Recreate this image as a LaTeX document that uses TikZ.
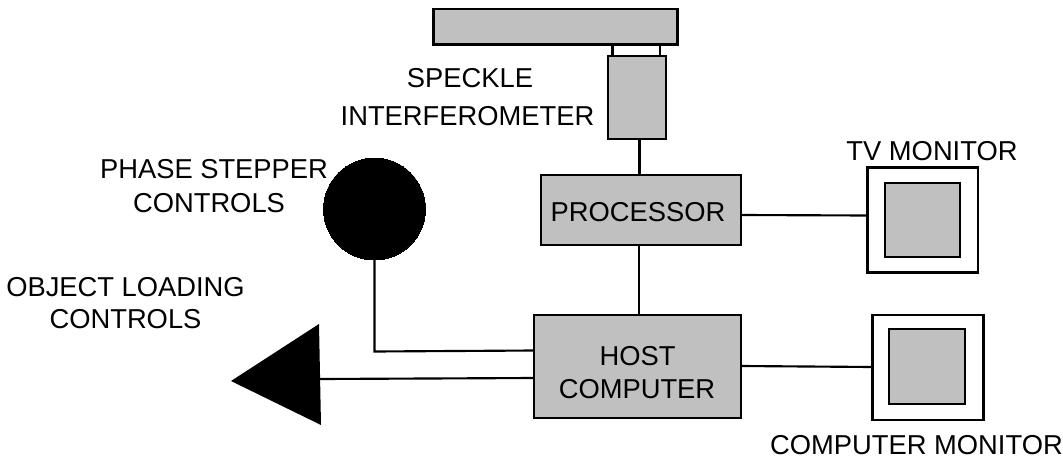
\documentclass[tikz,border=0pt]{standalone}
\usepackage{fontspec}
\setmainfont{Liberation Sans}
\definecolor{boxgray}{HTML}{C0C0C0}
\tikzset{
  box/.style={draw=black,fill=boxgray,line width=1.9pt,inner sep=0pt,outer sep=0pt},
  frame/.style={draw=black,fill=white,line width=1.9pt,inner sep=0pt,outer sep=0pt},
  wire/.style={draw=black,line width=1.6pt},
  lab/.style={anchor=base,inner sep=0pt,text=black,font=\fontsize{20.5pt}{24pt}\selectfont},
}
% rectangle node from pixel corners: name, style, x1, y1, x2, y2
\newcommand{\pxbox}[6]{%
  \pgfmathsetmacro{\pxw}{(#5-#3)*0.75}%
  \pgfmathsetmacro{\pxh}{(#6-#4)*0.75}%
  \node[#2,minimum width=\pxw pt,minimum height=\pxh pt] (#1) at ({(#3+#5)/2},{(#4+#6)/2}) {};%
}
\begin{document}
\begin{tikzpicture}[x=0.75pt,y=-0.75pt]
\useasboundingbox (0,0) rectangle (1063,460);
% connectors below shapes
\coordinate (tip) at (320,379);
\pxbox{plate}{box}{433.5}{9}{677.5}{44.5}
\pxbox{interf}{box}{608}{56}{666}{139}
\pxbox{proc}{box}{541}{175}{741}{245}
\pxbox{host}{box}{534}{315}{741}{418}
\pxbox{tv}{frame}{867.5}{167.5}{978}{272.5}
\pxbox{tvscreen}{box}{885}{183}{960}{257}
\pxbox{cm}{frame}{872.5}{315}{983.5}{420}
\pxbox{cmscreen}{box}{889}{329}{965}{404}
\node[circle,fill=black,draw=black,line width=0pt,inner sep=0pt,outer sep=0pt,minimum size=76.5pt] (phase) at (374.5,209) {};
\fill[black] (231,381) -- (319,324) -- (321,425) -- cycle;
% connectors
\draw[wire] (plate.south -| 612.5,0) -- (interf.north -| 612.5,0);
\draw[wire] (plate.south -| 660,0) -- (interf.north -| 660,0);
\draw[wire] (interf.south -| 639.5,0) -- (proc.north -| 639.5,0);
\draw[wire] (proc.south -| 639,0) -- (host.north -| 639,0);
\draw[wire] (proc.east |- 0,215) -- (tv.west |- 0,215.5);
\draw[wire] (host.east |- 0,366) -- (cm.west |- 0,367);
\draw[wire] (phase.south) -- (374.5,351.5) -- (host.west |- 0,350.5);
\draw[wire] (host.west |- 0,378) -- (tip);
% labels
\node[lab] (l1) at (470,88) {SPECKLE};
\node[lab] (l2) at (467.5,125) {INTERFEROMETER};
\node[lab] (l3) at (214,178) {PHASE STEPPER};
\node[lab] (l4) at (209,212.5) {CONTROLS};
\node[lab] (l5) at (125.5,296) {OBJECT LOADING};
\node[lab] (l6) at (125.5,328) {CONTROLS};
\node[lab] (l7) at (638,221) {PROCESSOR};
\node[lab] (l8) at (637.5,365) {HOST};
\node[lab] (l9) at (637,398) {COMPUTER};
\node[lab] (l10) at (932,160) {TV MONITOR};
\node[lab] (l11) at (916.5,454) {COMPUTER MONITOR};
\end{tikzpicture}
\end{document}
